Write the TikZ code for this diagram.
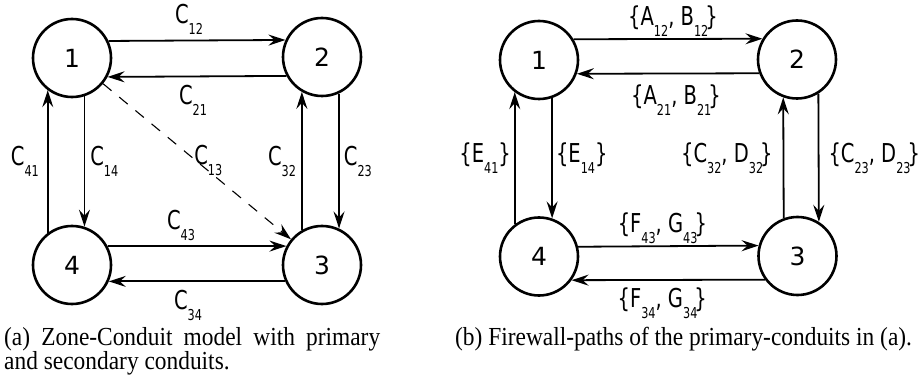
\documentclass[tikz,border=0pt]{standalone}
\usepackage{fontspec}
\setmainfont{DejaVu Sans}
\newfontfamily\labfont[FakeStretch=0.75]{DejaVu Sans}
\newfontfamily\capfont[FakeStretch=0.9]{Liberation Serif}
\usetikzlibrary{arrows.meta}
\newcommand\cdsub[1]{\raisebox{-11pt}{\fontsize{15}{15}\selectfont #1}}
\tikzset{
  zone/.style       = {circle, draw, line width=2.6pt, minimum size=78pt,
                       inner sep=0pt, font=\fontsize{25}{25}\selectfont},
  conduit/.style    = {line width=1.8pt,
                       -{Stealth[length=17pt, width=11pt, inset=6pt]}},
  secconduit/.style = {conduit, line width=1.1pt, dash pattern=on 11pt off 10pt},
  conduitlab/.style = {font=\labfont\fontsize{26}{26}\selectfont, inner sep=1pt},
  captext/.style    = {font=\capfont\fontsize{26}{24.5}\selectfont,
                       inner sep=0pt, anchor=north west},
}

\begin{document}
\begin{tikzpicture}[x=1pt, y=-1pt]
    \useasboundingbox (0,0) rectangle (919,385);
    % (a) zones and conduits
    \node[zone] (A1) at (72,58) {1};
    \node[zone] (A2) at (322,57) {2};
    \node[zone] (A3) at (322,265) {3};
    \node[zone] (A4) at (72,265) {4};
    \draw[conduit] (A1.25) -- node[conduitlab, above=4pt, xshift=-8pt] {C\cdsub{12}} (A2.155);
    \draw[conduit] (A2.-152) -- node[conduitlab, below=7pt, xshift=-4pt] {C\cdsub{21}} (A1.-28);
    \draw[conduit] (A1.-72.5) -- node[conduitlab, right=4pt] {C\cdsub{14}} (A4.72.5);
    \draw[conduit] (A4.127) -- node[conduitlab, left=7pt] {C\cdsub{41}} (A1.-127);
    \draw[conduit] (A2.-65) -- node[conduitlab, right=3pt] {C\cdsub{23}} (A3.65);
    \draw[conduit] (A3.120) -- node[conduitlab, left=4pt] {C\cdsub{32}} (A2.-120);
    \draw[conduit] (A4.28) -- node[conduitlab, above=3pt, xshift=-16pt] {C\cdsub{43}} (A3.152);
    \draw[conduit] (A3.-156) -- node[conduitlab, below=7pt, xshift=-9pt] {C\cdsub{34}} (A4.-24);
    \draw[secconduit] (A1) -- node[conduitlab, pos=0.56, yshift=10pt] {C\cdsub{13}} (A3);
    % (b) firewall-paths
    \node[zone] (B1) at (539,60) {1};
    \node[zone] (B2) at (797,59.5) {2};
    \node[zone] (B3) at (797.5,256) {3};
    \node[zone] (B4) at (539,256.5) {4};
    \draw[conduit] (B1.31) -- node[conduitlab, above=1pt, xshift=5pt] {\{A\cdsub{12}, B\cdsub{12}\kern-3pt\}} (B2.149);
    \draw[conduit] (B2.-160) -- node[conduitlab, below=9pt, xshift=8pt] {\{A\cdsub{21}, B\cdsub{21}\kern-3pt\}} (B1.-20);
    \draw[conduit] (B1.-71) -- node[conduitlab, right=2pt] {\{E\cdsub{14}\}} (B4.71);
    \draw[conduit] (B4.127) -- node[conduitlab, left=2pt] {\{E\cdsub{41}\}} (B1.-127);
    \draw[conduit] (B2.-58) -- node[conduitlab, right=8pt] {\{C\cdsub{23}, D\cdsub{23}\kern-3pt\}} (B3.58);
    \draw[conduit] (B3.110.5) -- node[conduitlab, left=9pt] {\{C\cdsub{32}, D\cdsub{32}\kern-3pt\}} (B2.-110.5);
    \draw[conduit] (B4.14.5) -- node[conduitlab, above=1pt, xshift=-6pt] {\{F\cdsub{43}, G\cdsub{43}\kern-3pt\}} (B3.165.5);
    \draw[conduit] (B3.-144) -- node[conduitlab, below=6pt, xshift=-6pt] {\{F\cdsub{34}, G\cdsub{34}\kern-3pt\}} (B4.-36);
    % captions
    \node[captext, text width=376pt, align=justify] (capa) at (4,327)
      {(a) Zone-Conduit model with primary and secondary conduits.};
    \node[captext] (capb) at (455,327)
      {(b) Firewall-paths of the primary-conduits in (a).};
  \end{tikzpicture}
\end{document}
